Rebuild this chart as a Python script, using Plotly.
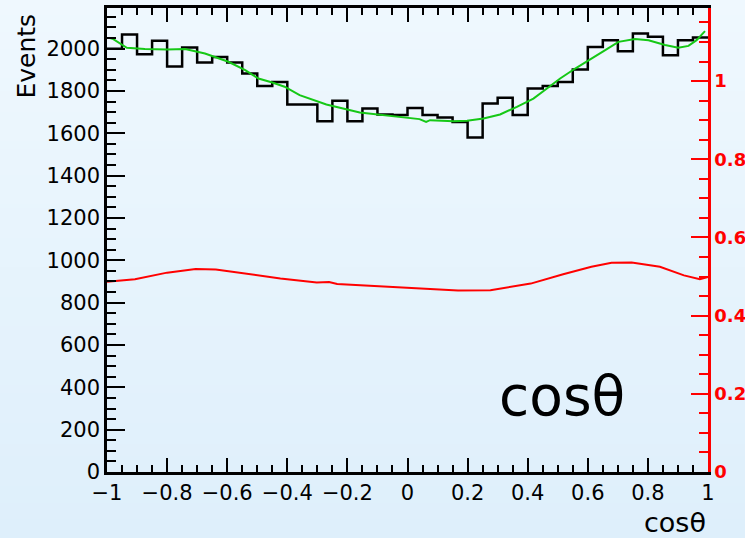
import base64, struct, zlib
import numpy as np
import plotly.graph_objects as go

# ---------------- data ----------------
bin_lo, bin_hi, n_bins = -1.0, 1.0, 40
events = [2000, 2067, 1974, 2037, 1916, 2005, 1935, 1961, 1935, 1883,
          1823, 1843, 1736, 1736, 1657, 1754, 1657, 1717, 1689, 1687,
          1720, 1686, 1675, 1654, 1580, 1741, 1768, 1686, 1812, 1823,
          1843, 1902, 2008, 2040, 1988, 2072, 2056, 1969, 2040, 2053]

green_x = [-0.99, -0.979, -0.934, -0.874, -0.80, -0.74, -0.674, -0.596, -0.54, -0.496,
           -0.45, -0.409, -0.359, -0.27, -0.159, -0.048, 0.007, 0.04, 0.062, 0.075,
           0.153, 0.198, 0.253, 0.308, 0.364, 0.419, 0.464, 0.508, 0.558, 0.602,
           0.658, 0.702, 0.757, 0.802, 0.857, 0.901, 0.935, 0.962, 0.99]
green_y = [2050, 2045, 2004, 1998, 1996, 1998, 1977, 1938, 1898, 1859,
           1840, 1820, 1780, 1736, 1698, 1682, 1673, 1667, 1654, 1662,
           1657, 1659, 1670, 1689, 1725, 1764, 1812, 1859, 1906, 1946,
           1993, 2032, 2045, 2040, 2017, 2004, 2013, 2040, 2083]

red_x = [-1.0, -0.907, -0.8, -0.705, -0.638, -0.557, -0.423, -0.302, -0.261, -0.234,
         -0.1, 0.06, 0.168, 0.276, 0.41, 0.518, 0.612, 0.679, 0.746, 0.84,
         0.92, 0.973, 1.0]
red_y = [0.487, 0.493, 0.510, 0.519, 0.518, 0.510, 0.495, 0.485, 0.486, 0.481,
         0.475, 0.467, 0.464, 0.465, 0.482, 0.506, 0.525, 0.535, 0.536, 0.525,
         0.503, 0.493, 0.499]

x_ticks = [-1, -0.8, -0.6, -0.4, -0.2, 0, 0.2, 0.4, 0.6, 0.8, 1]
x_ticklabels = ["\u22121", "\u22120.8", "\u22120.6", "\u22120.4", "\u22120.2", "0",
                "0.2", "0.4", "0.6", "0.8", "1"]
y_ticks = [0, 200, 400, 600, 800, 1000, 1200, 1400, 1600, 1800, 2000]
y_ticklabels = [str(v) for v in y_ticks]
y2_ticks = [0, 0.2, 0.4, 0.6, 0.8, 1]
y2_ticklabels = ["0", "0.2", "0.4", "0.6", "0.8", "1"]

# ---------------- background gradient ----------------
def gradient_png(top, bottom, h=128):
    raw = b""
    for i in range(h):
        t = i / (h - 1)
        c = bytes(int(round(top[k] + (bottom[k] - top[k]) * t)) for k in range(3))
        raw += b"\x00" + c * 2
    def chunk(tag, data):
        return struct.pack(">I", len(data)) + tag + data + struct.pack(">I", zlib.crc32(tag + data) & 0xffffffff)
    png = (b"\x89PNG\r\n\x1a\n"
           + chunk(b"IHDR", struct.pack(">IIBBBBB", 2, h, 8, 2, 0, 0, 0))
           + chunk(b"IDAT", zlib.compress(raw))
           + chunk(b"IEND", b""))
    return "data:image/png;base64," + base64.b64encode(png).decode()

W, H = 745, 538
ML, MR, MT, MB = 107, 37, 8, 66
PW, PH = W - ML - MR, H - MT - MB

edges = np.linspace(bin_lo, bin_hi, n_bins + 1)
hist_y = events + [events[-1]]

FONT = "DejaVu Sans"

fig = go.Figure()
fig.add_trace(go.Scatter(x=edges, y=hist_y, mode="lines", line=dict(shape="hv", color="black", width=2.5),
                         showlegend=False, hoverinfo="skip"))
fig.add_trace(go.Scatter(x=green_x, y=green_y, mode="lines", line=dict(color="#16c816", width=2),
                         showlegend=False))
fig.add_trace(go.Scatter(x=red_x, y=red_y, mode="lines", line=dict(color="#ff0000", width=2),
                         yaxis="y2", showlegend=False))

fig.update_layout(
    width=W, height=H,
    margin=dict(l=ML, r=MR, t=MT, b=MB, pad=0, autoexpand=False),
    paper_bgcolor="#e6f3fc",
    plot_bgcolor="rgba(0,0,0,0)",
    images=[dict(source=gradient_png((239, 248, 254), (222, 239, 251)),
                 xref="paper", yref="paper", x=-ML / PW, y=(PH + MT) / PH,
                 sizex=W / PW, sizey=H / PH, xanchor="left", yanchor="top",
                 sizing="stretch", layer="below")],
    xaxis=dict(range=[bin_lo, bin_hi], tickmode="array", tickvals=x_ticks, ticktext=x_ticklabels,
               ticks="inside", ticklen=14, tickwidth=2, tickcolor="black",
               showline=True, linecolor="black", linewidth=2.5, mirror="ticks",
               showgrid=False, zeroline=False, automargin=False,
               minor=dict(tick0=-1, dtick=0.05, ticks="inside", ticklen=7, tickwidth=2,
                          tickcolor="black", showgrid=False),
               tickfont=dict(family=FONT, size=21, color="black")),
    yaxis=dict(range=[0, 2192], tickmode="array", tickvals=y_ticks, ticktext=y_ticklabels,
               ticks="inside", ticklen=18, tickwidth=2, tickcolor="black",
               showline=True, linecolor="black", linewidth=2.5, mirror=False,
               showgrid=False, zeroline=False, automargin=False,
               minor=dict(tick0=0, dtick=50, ticks="inside", ticklen=9, tickwidth=2,
                          tickcolor="black", showgrid=False),
               tickfont=dict(family=FONT, size=21, color="black")),
    yaxis2=dict(overlaying="y", side="right", range=[0, 1.187], tickmode="array",
                tickvals=y2_ticks, ticktext=y2_ticklabels,
                ticks="inside", ticklen=17, tickwidth=2, tickcolor="#ff0000",
                showline=True, linecolor="#ff0000", linewidth=2.5,
                showgrid=False, zeroline=False, automargin=False,
                minor=dict(tick0=0, dtick=0.05, ticks="inside", ticklen=9, tickwidth=2,
                           tickcolor="#ff0000", showgrid=False),
                tickfont=dict(family=FONT, size=18, color="#ff0000", weight="bold")),
    annotations=[
        dict(text="Events", textangle=-90, xref="paper", yref="paper",
             x=(26 - ML) / PW, y=(PH + MT - 12) / PH, xanchor="center", yanchor="top",
             showarrow=False, font=dict(family=FONT, size=25, color="black")),
        dict(text="cos\u03b8", xref="paper", yref="paper", x=1, y=-(522 - MT - PH) / PH,
             xanchor="right", yanchor="middle", showarrow=False,
             font=dict(family=FONT, size=27, color="black")),
        dict(text="cos\u03b8", xref="paper", yref="paper", x=(562 - ML) / PW, y=(PH + MT - 396) / PH,
             xanchor="center", yanchor="middle", showarrow=False,
             font=dict(family=FONT, size=55, color="black")),
    ],
)

fig.write_html("out.html", config={"displayModeBar": False},
               post_script="document.body.style.margin='0';document.body.style.padding='0';"
                           "document.body.style.overflow='hidden';")
